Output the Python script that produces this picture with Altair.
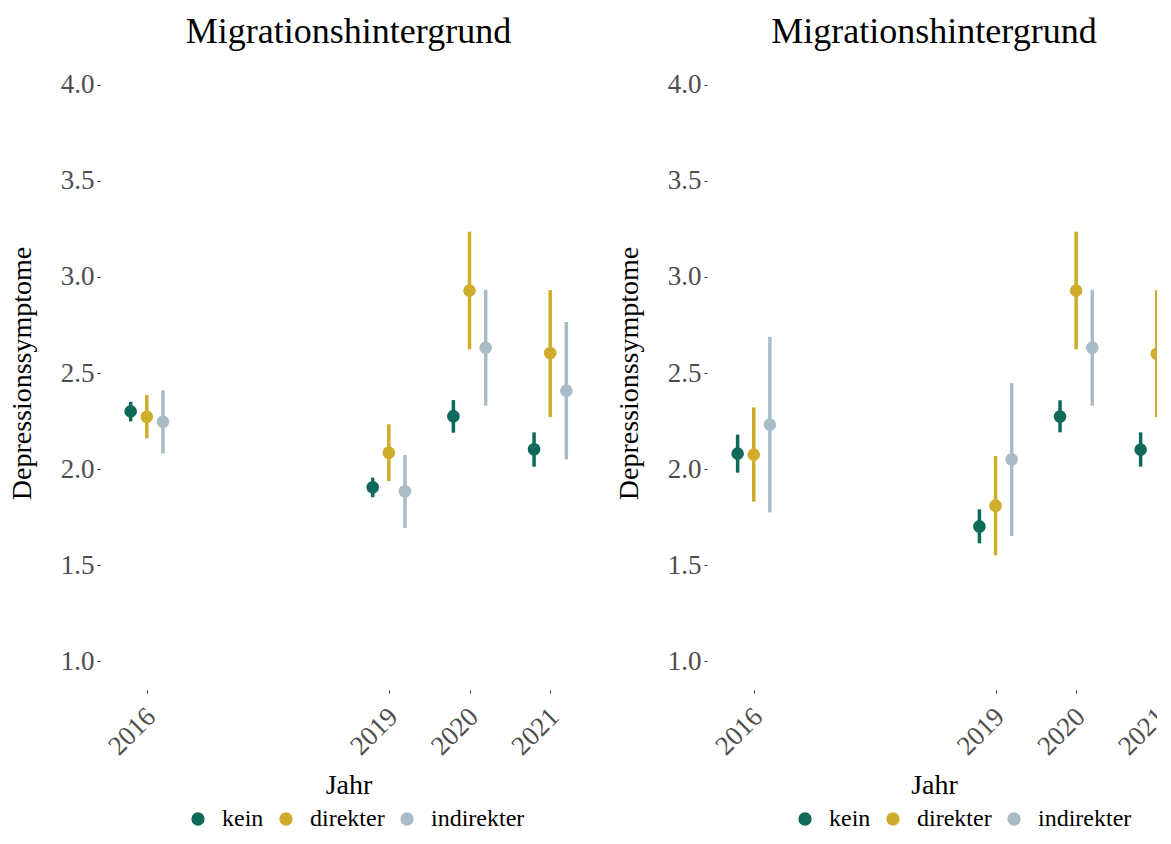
import altair as alt
import pandas as pd

years = [2016, 2019, 2020, 2021]
groups = ["kein", "direkter", "indirekter"]
colors = ["#0F6A5A", "#CFAD2B", "#A9BBC6"]
y_ticks = [1.0, 1.5, 2.0, 2.5, 3.0, 3.5, 4.0]

# Panel 1 (left)
p1_kein_mean = [2.300, 1.905, 2.275, 2.103]
p1_kein_lo = [2.248, 1.853, 2.189, 2.012]
p1_kein_hi = [2.350, 1.955, 2.359, 2.191]
p1_dir_mean = [2.272, 2.085, 2.929, 2.604]
p1_dir_lo = [2.160, 1.936, 2.623, 2.271]
p1_dir_hi = [2.385, 2.233, 3.236, 2.932]
p1_ind_mean = [2.246, 1.884, 2.632, 2.408]
p1_ind_lo = [2.080, 1.693, 2.330, 2.050]
p1_ind_hi = [2.410, 2.073, 2.934, 2.766]

# Panel 2 (right)
p2_kein_mean = [2.080, 1.701, 2.273, 2.101]
p2_kein_lo = [1.981, 1.613, 2.191, 2.012]
p2_kein_hi = [2.179, 1.790, 2.358, 2.191]
p2_dir_mean = [2.075, 1.809, 2.929, 2.600]
p2_dir_lo = [1.830, 1.550, 2.623, 2.270]
p2_dir_hi = [2.321, 2.068, 3.236, 2.932]
p2_ind_mean = [2.231, 2.050, 2.632, 2.410]
p2_ind_lo = [1.774, 1.651, 2.330, 2.050]
p2_ind_hi = [2.688, 2.448, 2.934, 2.766]


def make_df(series):
    rows = []
    for g, (m, lo, hi) in zip(groups, series):
        for i, yr in enumerate(years):
            rows.append({"Jahr": yr, "Gruppe": g, "mean": m[i], "lo": lo[i], "hi": hi[i]})
    return pd.DataFrame(rows)


df1 = make_df([(p1_kein_mean, p1_kein_lo, p1_kein_hi),
               (p1_dir_mean, p1_dir_lo, p1_dir_hi),
               (p1_ind_mean, p1_ind_lo, p1_ind_hi)])
df2 = make_df([(p2_kein_mean, p2_kein_lo, p2_kein_hi),
               (p2_dir_mean, p2_dir_lo, p2_dir_hi),
               (p2_ind_mean, p2_ind_lo, p2_ind_hi)])

FONT = "Liberation Serif"


def panel(df, width, xmax):
    base = alt.Chart(df).transform_calculate(
        xpos="datum.Jahr + (datum.Gruppe === 'kein' ? -0.2 : (datum.Gruppe === 'indirekter' ? 0.2 : 0))"
    )
    x = alt.X("xpos:Q",
              scale=alt.Scale(domain=[2015.42, xmax], nice=False, zero=False),
              axis=alt.Axis(values=years, format="d", title="Jahr", labelAngle=315,
                            labelAlign="right", labelBaseline="top", labelPadding=10,
                            labelOffset=-5, titlePadding=12))
    y = alt.Y("mean:Q",
              scale=alt.Scale(domain=[0.849, 4.151], nice=False, zero=False),
              axis=alt.Axis(values=y_ticks, format=".1f", title="Depressionssymptome",
                            labelPadding=3, titlePadding=24))
    leg = alt.Legend(title=None, orient="none", legendX=86, legendY=751, padding=0,
                     direction="horizontal", symbolType="circle",
                     symbolSize=177, labelFontSize=24, labelFont=FONT,
                     labelColor="black", labelOffset=12,
                     columnPadding=10, symbolStrokeWidth=0,
                     symbolOpacity=1)
    cscale = alt.Scale(domain=groups, range=colors)
    rules = base.mark_rule(strokeWidth=3.5, clip=True).encode(
        x=x, y="lo:Q", y2="hi:Q",
        color=alt.Color("Gruppe:N", scale=cscale, legend=leg),
    )
    pts = base.mark_circle(size=160, opacity=1, clip=True).encode(
        x=x, y=y,
        color=alt.Color("Gruppe:N", scale=cscale, legend=leg),
    )
    return alt.layer(rules, pts).properties(
        width=width, height=634,
        title=alt.TitleParams("Migrationshintergrund", fontSize=36, font=FONT,
                              fontWeight="normal", color="black", offset=5),
    )


left = panel(df1, 497, 2021.58)
right = panel(df2, 454, 2015.42 + 454 / 80.6)

chart = alt.hconcat(left, right, spacing=18).resolve_legend(color="independent").properties(
    padding={"left": 0, "top": 6, "right": -14, "bottom": 0}
).configure(font=FONT).configure_view(stroke=None).configure_axis(
    domain=False, grid=False, tickColor="#333333", tickSize=3, tickWidth=1,
    labelColor="#4D4D4D", labelFontSize=27, labelFont=FONT,
    titleFontSize=28, titleFont=FONT, titleFontWeight="normal", titleColor="black",
)

chart.save("out.html", embed_options={"renderer": "svg", "actions": False})
